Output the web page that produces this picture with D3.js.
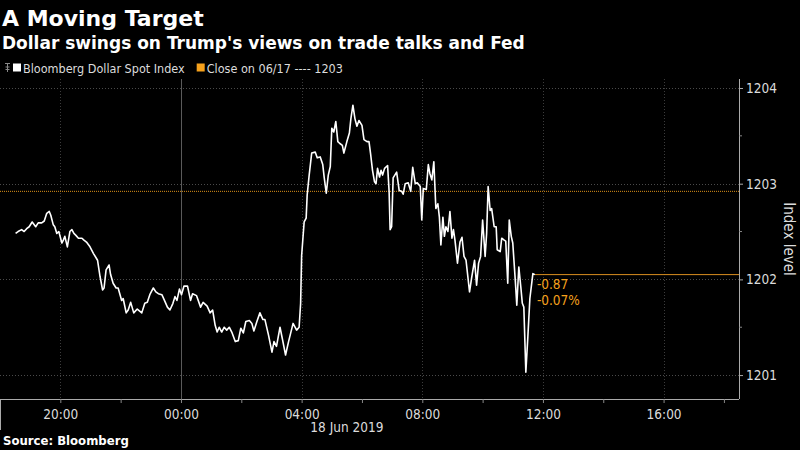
<!DOCTYPE html>
<html>
<head>
<meta charset="utf-8">
<script src="https://cdn.jsdelivr.net/npm/d3@7"></script>
<style>
  html, body { margin: 0; padding: 0; background: #000; }
  svg { display: block; }
</style>
</head>
<body>
<svg id="chart" width="800" height="450"></svg>
<script>
// ---- data ----
const title = "A Moving Target";
const subtitle = "Dollar swings on Trump's views on trade talks and Fed";
const seriesName = "Bloomberg Dollar Spot Index";
const closeLabel = "Close on 06/17 ---- 1203";
const sourceText = "Source: Bloomberg";
const yAxisTitle = "Index level";
const dateLabel = "18 Jun 2019";
const yTicks = [1201, 1202, 1203, 1204];
const prevClose = 1202.92;
const changeLabels = ["-0.87", "-0.07%"];

// minutes after 17 Jun 2019 18:00
const minutesSince1800 = [31,36,43,48,53,58,64,71,76,83,88,93,98,101,106,109,113,117,123,126,
129,134,139,143,147,151,156,163,167,172,179,186,194,199,204,207,211,217,220,225,
231,235,242,245,251,255,260,266,273,282,288,293,298,305,310,315,322,328,333,338,
344,348,352,357,361,366,373,379,383,391,399,404,412,418,423,428,432,436,441,446,
451,456,461,468,474,479,484,489,496,501,505,511,517,523,527,534,541,545,550,557,
562,568,574,583,590,595,598,600,605,609,611,615,620,627,631,637,642,645,649,653,
657,660,664,668,672,676,681,684,690,695,698,702,706,710,714,720,724,730,734,737,
741,745,748,751,755,758,761,765,771,774,776,779,782,789,794,799,802,806,812,817,
821,826,830,836,839,842,848,852,855,859,863,867,871,874,877,881,884,887,891,895,
899,902,905,910,915,919,923,927,934,938,944,948,952,956,960,965,968,971,975,978,
983,987,989,995,998,1003,1006,1010,1013,1017,1020,1025,1028,1032,1036,1039,1042,1046,1050,1054,
1060,1064];

const indexLevel = [1202.48,1202.50,1202.52,1202.50,1202.53,1202.55,1202.60,1202.55,1202.59,1202.59,
1202.61,1202.69,1202.71,1202.67,1202.57,1202.55,1202.48,1202.50,1202.38,1202.41,
1202.45,1202.34,1202.50,1202.52,1202.48,1202.46,1202.43,1202.43,1202.41,1202.39,
1202.34,1202.27,1202.20,1202.03,1201.89,1201.91,1202.10,1202.15,1202.05,1201.96,
1201.91,1201.91,1201.78,1201.80,1201.65,1201.68,
1201.76,1201.65,1201.69,1201.65,1201.75,1201.76,1201.84,1201.91,1201.87,1201.85,
1201.84,1201.77,1201.71,1201.68,1201.75,1201.82,1201.78,1201.90,1201.84,1201.93,
1201.93,1201.78,1201.85,1201.83,1201.71,1201.76,1201.72,1201.65,1201.68,1201.52,
1201.45,1201.50,1201.45,1201.50,1201.47,1201.50,1201.45,1201.35,1201.36,1201.49,
1201.44,1201.56,1201.57,1201.54,1201.46,1201.56,1201.65,1201.58,1201.58,1201.42,
1201.24,1201.35,1201.30,1201.50,1201.37,1201.21,1201.35,1201.54,1201.47,1201.50,1201.75,
1202.25,1202.60,1202.64,1202.88,1203.09,1203.32,1203.33,1203.27,1203.28,1203.20,
1203.06,1202.90,1203.09,1203.18,1203.58,1203.54,1203.65,1203.44,1203.42,1203.40,
1203.32,1203.44,1203.53,1203.68,1203.82,1203.68,1203.60,1203.66,1203.61,1203.46,
1203.44,1203.44,1203.32,1203.14,1203.02,1203.00,1203.16,1203.07,1203.14,1203.09,
1203.16,1203.19,1202.92,1202.52,1202.55,1203.06,1203.12,1202.93,1202.92,1202.89,
1203.00,1203.01,1202.92,1203.17,
1203.00,1203.01,1202.97,1202.62,1202.95,1202.94,1203.20,1203.11,1203.04,1203.23,
1202.74,1202.79,1202.65,1202.36,1202.65,1202.45,1202.55,1202.50,1202.71,1202.43,
1202.52,1202.41,1202.17,1202.39,1202.44,1202.24,1202.20,1201.87,1202.01,1202.20,
1201.94,1202.17,1202.24,1202.62,1202.24,1202.48,1202.97,1202.72,1202.74,1202.55,
1202.55,1202.31,1202.29,1202.43,1202.41,1202.40,1201.96,1202.62,1202.45,1202.38,
1201.99,1201.73,1202.13,1201.92,1201.75,1201.71,1201.03,1201.40,1201.80,1202.06,1202.05];

// ---- setup ----
const start = new Date(2019, 5, 17, 18, 0);
const end = new Date(2019, 5, 18, 18, 30);
const data = minutesSince1800.map((m, i) => ({ t: d3.timeMinute.offset(start, m), v: indexLevel[i] }));
const last = data[data.length - 1];

const ORANGE = "#f5a11c";
const TXT = "#dcdcdc";
const condensed = "'DejaVu Sans Condensed', 'DejaVu Sans', sans-serif";
const bold = "'DejaVu Sans', sans-serif";

const plot = { left: 0, right: 739, top: 79, bottom: 399 };
const svg = d3.select("#chart");
svg.append("rect").attr("width", 800).attr("height", 450).attr("fill", "#000");

const x = d3.scaleTime().domain([start, end]).range([plot.left, plot.right]);
const y = d3.scaleLinear().domain([1200.75, 1204.094]).range([plot.bottom, plot.top]);

// ---- titles ----
svg.append("text").attr("x", 2).attr("y", 26).text(title)
  .attr("fill", "#fff").style("font-family", bold).style("font-weight", "bold").style("font-size", "22px");
svg.append("text").attr("x", 2).attr("y", 49).text(subtitle)
  .attr("fill", "#fff").style("font-family", bold).style("font-weight", "bold").style("font-size", "17px");

// ---- legend ----
const lg = svg.append("g").attr("transform", "translate(0,68)");
lg.append("path").attr("d", "M5,-4.5 H10 M7.5,-4.5 V4 M5.5,-1 H9.5 M5.5,1.5 H9.5")
  .attr("stroke", "#888").attr("stroke-width", 1).attr("fill", "none");
lg.append("rect").attr("x", 13).attr("y", -4.5).attr("width", 8).attr("height", 8).attr("fill", "#fff");
const lt1 = lg.append("text").attr("x", 23).attr("y", 4.5).text(seriesName)
  .attr("fill", TXT).style("font-family", condensed).style("font-size", "12.5px");
const w1 = lt1.node().getComputedTextLength();
lg.append("rect").attr("x", 23 + w1 + 12).attr("y", -4.5).attr("width", 8).attr("height", 8).attr("fill", ORANGE);
lg.append("text").attr("x", 23 + w1 + 22).attr("y", 4.5).text(closeLabel)
  .attr("fill", TXT).style("font-family", condensed).style("font-size", "12.5px");

// ---- gridlines ----
const grid = svg.append("g");
grid.selectAll("line.h").data(yTicks).join("line")
  .attr("x1", plot.left).attr("x2", plot.right)
  .attr("y1", d => Math.round(y(d)) + 0.5).attr("y2", d => Math.round(y(d)) + 0.5)
  .attr("stroke", "#4a4a4a").attr("stroke-dasharray", "1,2");
const vTicks = x.ticks(d3.timeHour.every(4));
grid.selectAll("line.v").data(vTicks).join("line")
  .attr("x1", d => Math.round(x(d)) + 0.5).attr("x2", d => Math.round(x(d)) + 0.5)
  .attr("y1", plot.top).attr("y2", plot.bottom)
  .attr("stroke", d => d.getHours() === 0 ? "#5a5a5a" : "#3c3c3c")
  .attr("stroke-dasharray", d => d.getHours() === 0 ? null : "1,2");

// ---- previous close line ----
svg.append("line").attr("x1", plot.left).attr("x2", plot.right)
  .attr("y1", y(prevClose)).attr("y2", y(prevClose))
  .attr("stroke", ORANGE).attr("stroke-width", 1).attr("stroke-dasharray", "1,1").attr("opacity", 0.9);

// ---- last value line ----
svg.append("line").attr("x1", x(last.t)).attr("x2", plot.right)
  .attr("y1", y(last.v)).attr("y2", y(last.v))
  .attr("stroke", "#d98e1f").attr("stroke-width", 1);

// ---- series ----
const line = d3.line().x(d => x(d.t)).y(d => y(d.v));
svg.append("path").datum(data).attr("d", line)
  .attr("fill", "none").attr("stroke", "#fff").attr("stroke-width", 1.6).attr("stroke-linejoin", "round");

// ---- change annotation ----
svg.selectAll("text.chg").data(changeLabels).join("text")
  .attr("x", x(last.t) + 2).attr("y", (d, i) => y(last.v) + 14 + i * 16)
  .text(d => d).attr("fill", ORANGE)
  .style("font-family", condensed).style("font-size", "13.5px");

// ---- x axis ----
const xAxis = d3.axisBottom(x).ticks(d3.timeHour.every(2)).tickSize(4)
  .tickFormat(d => d.getHours() % 4 === 0 ? d3.timeFormat("%H:%M")(d) : "");
const gx = svg.append("g").attr("transform", `translate(0,${plot.bottom})`).call(xAxis);
gx.select(".domain").attr("stroke", "#aaa").attr("d", `M${plot.left},0.5H${plot.right}`);
gx.selectAll(".tick line").attr("stroke", "#888");
gx.selectAll(".tick text").attr("fill", TXT).attr("dy", "0.95em")
  .style("font-family", condensed).style("font-size", "13.5px");
svg.append("line").attr("x1", 0.5).attr("x2", 0.5).attr("y1", plot.bottom).attr("y2", 430).attr("stroke", "#aaa");
svg.append("text").attr("x", x(new Date(2019, 5, 18, 5, 30))).attr("y", 432)
  .attr("text-anchor", "middle").text(dateLabel).attr("fill", TXT)
  .style("font-family", condensed).style("font-size", "13.5px");

// ---- y axis (right) ----
const yAxis = d3.axisRight(y).tickValues(yTicks).tickSize(4).tickFormat(d3.format("d"));
const gy = svg.append("g").attr("transform", `translate(${plot.right},0)`).call(yAxis);
gy.select(".domain").attr("stroke", "#aaa").attr("d", `M0.5,${plot.top}V${plot.bottom}`);
gy.selectAll(".tick line").attr("stroke", "#aaa");
gy.selectAll(".tick text").attr("fill", TXT).attr("x", 7)
  .style("font-family", condensed).style("font-size", "13.5px");
const minor = [1201.5, 1202.5, 1203.5];
gy.selectAll("line.minor").data(minor).join("line")
  .attr("x1", 0).attr("x2", 3).attr("y1", d => y(d)).attr("y2", d => y(d)).attr("stroke", "#888");

svg.append("text").attr("transform", `translate(784,${(plot.top + plot.bottom) / 2 + 0}) rotate(90)`)
  .attr("text-anchor", "middle").text(yAxisTitle).attr("fill", TXT)
  .style("font-family", condensed).style("font-size", "15px");

// ---- source ----
svg.append("text").attr("x", 3).attr("y", 445).text(sourceText).attr("fill", "#fff")
  .style("font-family", condensed).style("font-weight", "bold").style("font-size", "13px");
</script>
</body>
</html>
